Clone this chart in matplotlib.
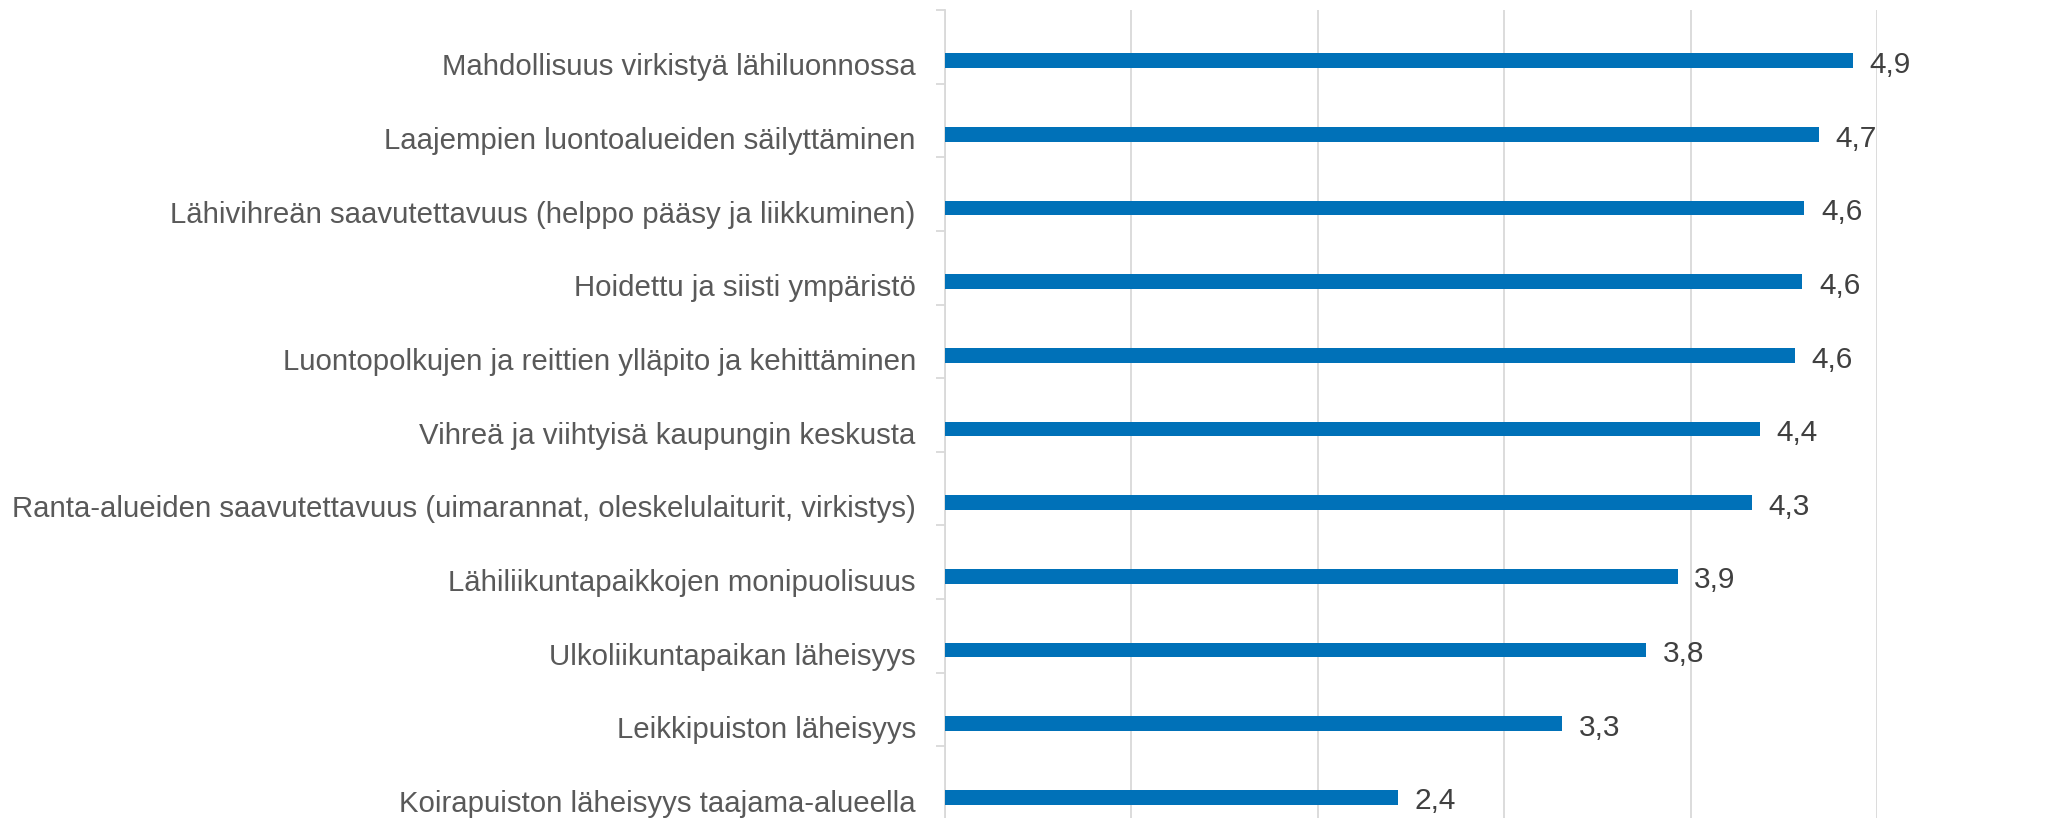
import matplotlib
matplotlib.use("Agg")
import matplotlib.pyplot as plt

# data, top to bottom as in the chart
categories = [
    "Mahdollisuus virkistyä lähiluonnossa",
    "Laajempien luontoalueiden säilyttäminen",
    "Lähivihreän saavutettavuus (helppo pääsy ja liikkuminen)",
    "Hoidettu ja siisti ympäristö",
    "Luontopolkujen ja reittien ylläpito ja kehittäminen",
    "Vihreä ja viihtyisä kaupungin keskusta",
    "Ranta-alueiden saavutettavuus (uimarannat, oleskelulaiturit, virkistys)",
    "Lähiliikuntapaikkojen monipuolisuus",
    "Ulkoliikuntapaikan läheisyys",
    "Leikkipuiston läheisyys",
    "Koirapuiston läheisyys taajama-alueella",
]
values = [4.87, 4.69, 4.61, 4.60, 4.56, 4.37, 4.33, 3.93, 3.76, 3.31, 2.43]

plt.rcParams["font.family"] = ["Liberation Sans", "DejaVu Sans"]

fig = plt.figure(figsize=(20.52, 8.18), dpi=100)
ax = fig.add_axes([0.4605, -0.0025, 0.4542, 0.9903])

pos = [i + 0.69 for i in range(len(categories))]
ax.barh(pos, values, height=0.2, color="#0071b8", zorder=3)

for y, v in zip(pos, values):
    ax.annotate(f"{v:.1f}".replace(".", ","), (v, y), xytext=(12, -3),
                textcoords="offset points", va="center", ha="left",
                fontsize=21.5, color="#404040")

ax.set_xlim(0, 5)
ax.set_ylim(len(categories), 0)
ax.set_xticks(range(6))
ax.tick_params(axis="x", length=0, labelbottom=False)
ax.grid(axis="x", color="#d9d9d9", linewidth=1.3, zorder=0)

ax.set_yticks(range(len(categories) + 1))
ax.set_yticklabels([])
ax.tick_params(axis="y", which="major", length=6.5, width=1.3, color="#d9d9d9")
# labels sit a little below the bar centre
ax.set_yticks([p + 0.05 for p in pos], minor=True)
ax.set_yticklabels(categories, minor=True, fontsize=21.2, color="#595959")
ax.tick_params(axis="y", which="minor", length=0, pad=21)

for side in ["top", "right", "bottom"]:
    ax.spines[side].set_visible(False)
ax.spines["left"].set_color("#d9d9d9")
ax.spines["left"].set_linewidth(1.3)

fig.savefig("out.png", dpi=100)
